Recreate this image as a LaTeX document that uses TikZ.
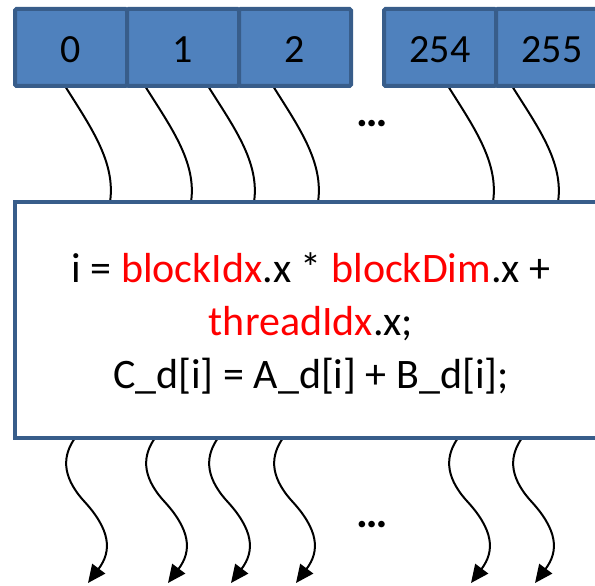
\documentclass[tikz,border=0pt]{standalone}
\usepackage{fontspec}
\setmainfont{Carlito}
\usetikzlibrary{arrows.meta,backgrounds}
\definecolor{cellfill}{HTML}{4F81BD}
\definecolor{cellline}{HTML}{385D8A}
\definecolor{keyred}{HTML}{FF0000}
\begin{document}
\begin{tikzpicture}[x=1pt,y=-1pt,
  cell/.style={draw=cellline, line width=4pt, fill=cellfill, minimum width=112pt,
    minimum height=77pt, inner sep=0pt, outer sep=0pt, anchor=north west,
    rounded corners=1.5pt},
  digit/.style={font=\fontsize{40}{44}\selectfont, anchor=base, inner sep=0pt},
  codeline/.style={font=\fontsize{42}{50}\selectfont, anchor=base, inner sep=0pt},
  ellip/.style={font=\fontsize{44}{48}\selectfont\bfseries, anchor=base, inner sep=0pt},
  wire/.style={line width=2pt, black},
  thread/.style={wire, -{Triangle[length=18pt,width=16pt]}}]
\useasboundingbox (0,0) rectangle (595,586);
\clip (0,0) rectangle (595,586);

% thread index cells
\node[cell] (c0) at (15,9) {};
\node[cell] (c1) at (c0.north east) {};
\node[cell] (c2) at (c1.north east) {};
\node[cell] (c3) at (384,9) {};
\node[cell] (c4) at (c3.north east) {};
\node[digit] (n0) at (c0.center |- 0,63) {0};
\node[digit] (n1) at (c1.center |- 0,63) {1};
\node[digit] (n2) at (c2.center |- 0,63) {2};
\node[digit] (n3) at (c3.center |- 0,63) {254};
\node[digit] (n4) at (c4.center |- 0,63) {255};
\node[ellip] (dtop) at (372,127) {…};

% kernel body
\node[draw=cellline, line width=4pt, fill=white, minimum width=620pt,
  minimum height=236pt, anchor=north west, inner sep=0pt, outer sep=0pt]
  (kernel) at (15,202) {};
\node[codeline] (l1) at (311,282)
  {i = \textcolor{keyred}{blockIdx}.x * \textcolor{keyred}{blockDim}.x +};
\node[codeline] (l2) at (311,335) {\textcolor{keyred}{threadIdx}.x;};
\node[codeline] (l3) at (311,388) {C\_d[i] = A\_d[i] + B\_d[i];};
\node[ellip] (dbot) at (372,527) {…};

\begin{scope}[on background layer]
  % threads entering the kernel
  \foreach \cellname/\a/\b in {c0/65/110, c1/145/191, c1/208/254,
                               c2/273/318, c3/448/493, c4/512/558}
    \draw[wire] (\cellname.south -| \a,0) .. controls +(25,40) and +(6,-40)
      .. (kernel.north -| \b,0);
  % threads leaving the kernel
  \foreach \x in {75,155,218,283,458,522}
    \draw[thread] (kernel.south -| \x,0) .. controls +(-12,17) and +(-22,-25)
      .. ++(8,62) .. controls +(28,30) and +(24,-32) .. ++(5,83);
\end{scope}
\end{tikzpicture}
\end{document}
